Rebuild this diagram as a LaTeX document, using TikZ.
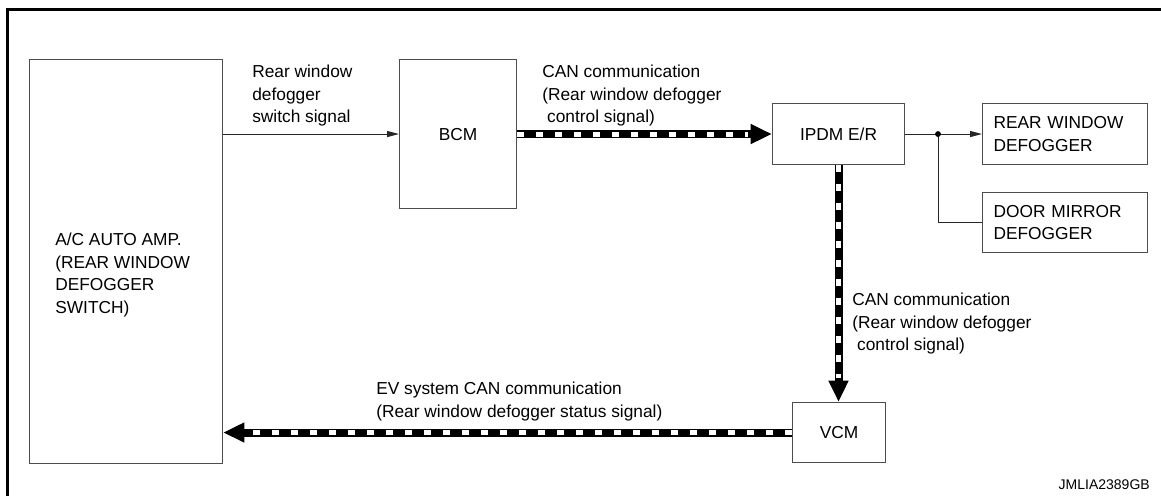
\documentclass[tikz,border=0pt]{standalone}
\usepackage{fontspec}
\setmainfont{Liberation Sans}
\usetikzlibrary{arrows.meta}

\tikzset{
  box/.style={draw=black!70, line width=0.8pt, inner sep=0pt},
  lbl/.style={anchor=north west, inner sep=0pt, align=left},
  wire/.style={draw=black!85, line width=0.75pt},
  sig/.style={wire, -{Triangle[length=9pt,width=4.5pt]}},
  can/.style={line width=6pt, -{Triangle[length=16pt,width=14pt]},
    postaction={draw=white, line width=3.75pt, -, dash pattern=on 5.25pt off 9pt, shorten >=18pt}},
}

\begin{document}
\begin{tikzpicture}[x=0.75pt, y=-0.75pt, font=\fontsize{13}{16.9}\selectfont]
\useasboundingbox (0,0) rectangle (1161,496);
\draw[line width=2.4pt] (7.5,500) -- (7.5,9.5) -- (1165,9.5);

\node[box, anchor=north west, minimum width=144.75pt, minimum height=303pt] (acamp) at (29,59) {};
\node[lbl] (actext) at (55,233) {A/C AUTO AMP.\\(REAR WINDOW\\DEFOGGER\\SWITCH)};
\node[box, anchor=north west, minimum width=87.75pt, minimum height=111.75pt] (bcm) at (399,59) {BCM};
\node[box, anchor=north west, minimum width=99pt, minimum height=45.75pt] (ipdm) at (772,103) {IPDM E/R};
\node[box, anchor=north west, minimum height=45.75pt, text width=107.25pt, inner xsep=8.25pt, align=left] (rwdef) at (982,103) {REAR WINDOW\\DEFOGGER};
\node[box, anchor=north west, minimum height=45pt, text width=107.25pt, inner xsep=8.25pt, align=left] (dmdef) at (982,192) {DOOR MIRROR\\DEFOGGER};
\node[box, anchor=north west, minimum width=69.75pt, minimum height=45pt] (vcm) at (792,402) {VCM};

\draw[sig] (bcm.west -| acamp.east) -- (bcm.west);
\draw[can] (bcm.east) -- (ipdm.west);
\coordinate (jx) at (938,0);
\coordinate (jn) at (ipdm.east -| jx);
\draw[wire] (ipdm.east) -- (jn);
\draw[sig] (jn) -- (rwdef.west);
\draw[wire] (jn) |- (dmdef.west);
\fill (jn) circle (2.2pt);
\draw[can] (ipdm.south) -- (ipdm.south |- vcm.north);
\draw[can] (vcm.west) -- (vcm.west -| acamp.east);

\node[lbl] (sigtxt) at (252,65) {Rear window\\defogger\\switch signal};
\node[lbl] (cantop) at (542,65) {CAN communication\\(Rear window defogger\\\ control signal)};
\node[lbl] (canmid) at (852,293) {CAN communication\\(Rear window defogger\\\ control signal)};
\node[lbl] (evtxt) at (376,382) {EV system CAN communication\\(Rear window defogger status signal)};
\node[anchor=base east, inner sep=0pt, font=\fontsize{10.5}{12}\selectfont] (code) at (1150,489) {JMLIA2389GB};
\end{tikzpicture}
\end{document}
